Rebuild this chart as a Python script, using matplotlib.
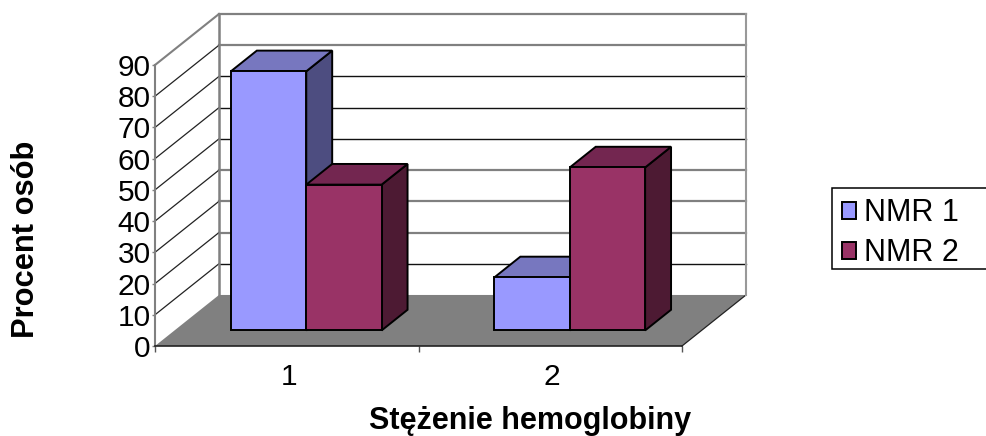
import matplotlib
matplotlib.use('Agg')
import matplotlib.pyplot as plt
from matplotlib.patches import Polygon, Patch, Rectangle
from matplotlib.transforms import ScaledTranslation

plt.rcParams['font.family'] = ['Liberation Sans', 'DejaVu Sans']

categories = ['1', '2']
nmr1 = [83, 17]
nmr2 = [46.7, 52.2]
y_ticks = [0, 10, 20, 30, 40, 50, 60, 70, 80, 90]
x_title = 'Stężenie hemoglobiny'
y_title = 'Procent osób'
series_names = ['NMR 1', 'NMR 2']

W, H = 987, 436
# oblique offset of the back wall, in data units
DX = 64 / 263.5
DY = 51 / 3.12
BAR_W = 0.286
D0, D1 = 0.305, 0.71

COLORS = [('#9999FF', '#7777BF', '#4D4D80'), ('#993366', '#732650', '#4D1A33')]
GRID_GRAY = [20, 30, 40, 80, 90]

fig = plt.figure(figsize=(W / 100, H / 100), dpi=100)
ax = fig.add_axes([155 / W, 1 - 346 / H, 527 / W, 281 / H])
ax.set_xlim(0, 2)
ax.set_ylim(0, 90)


def pt(x, y, d=0.0):
    return (x + DX * d, y + DY * d)


def poly(pts, fc, ec='none', lw=0, z=1):
    ax.add_patch(Polygon(pts, closed=True, facecolor=fc, edgecolor=ec,
                         linewidth=lw, zorder=z, clip_on=False, joinstyle='miter'))


# floor
poly([pt(0, 0), pt(2, 0), pt(2, 0, 1), pt(0, 0, 1)], '#808080')
ax.plot(*zip(pt(2, 0), pt(2, 0, 1)), color='#222222', lw=0.9, clip_on=False, zorder=2)

# walls and grid
for v in y_ticks:
    gray = v in GRID_GRAY
    if v > 0:
        c = '#808080' if gray else '#111111'
        ax.plot(*zip(pt(0, v, 1), pt(2, v, 1)), color=c, lw=1.6 if gray else 1.0,
                clip_on=False, zorder=2)
        side_c = '#808080' if v == 90 else '#222222'
        ax.plot(*zip(pt(0, v), pt(0, v, 1)), color=side_c, lw=1.5 if v == 90 else 0.9,
                clip_on=False, zorder=2)
ax.plot(*zip(pt(0, 0, 1), pt(0, 90, 1)), color='#808080', lw=1.8, clip_on=False, zorder=2)
ax.plot(*zip(pt(2, 0, 1), pt(2, 90, 1)), color='#999999', lw=1.5, clip_on=False, zorder=2)

# bars, left to right so that the later ones cover the earlier sides
for i in range(len(categories)):
    left = i + (1 - 2 * BAR_W) / 2
    for s, vals in enumerate([nmr1, nmr2]):
        x0 = left + s * BAR_W
        x1 = x0 + BAR_W
        v = vals[i]
        front, top, side = COLORS[s]
        z = 3 + i * 3 + s
        ek = dict(ec='black', lw=1.4, z=z)
        poly([pt(x1, 0, D0), pt(x1, 0, D1), pt(x1, v, D1), pt(x1, v, D0)], side, **ek)
        poly([pt(x0, v, D0), pt(x1, v, D0), pt(x1, v, D1), pt(x0, v, D1)], top, **ek)
        poly([pt(x0, 0, D0), pt(x1, 0, D0), pt(x1, v, D0), pt(x0, v, D0)], front, **ek)

for sp in ['top', 'right']:
    ax.spines[sp].set_visible(False)
ax.spines['left'].set_color('#808080')
ax.spines['left'].set_linewidth(1.5)
ax.spines['bottom'].set_color('#222222')
ax.spines['bottom'].set_linewidth(1.2)
ax.patch.set_visible(False)

ax.set_yticks(y_ticks)
ax.tick_params(axis='y', labelsize=21.5, length=2.5, width=1, color='#808080', pad=0.5)
ax.set_xticks([0.5, 1.5], categories)
ax.set_xticks([0, 1, 2], minor=True)
ax.tick_params(axis='x', which='major', length=0, labelsize=21.5, pad=12)
ax.tick_params(axis='x', which='minor', length=4.5, width=1, color='#555555')
for lab in ax.get_xticklabels():
    lab.set_transform(lab.get_transform() + ScaledTranslation(2 / 100, 0, fig.dpi_scale_trans))

fig.text(530 / W, 1 - 421 / H, x_title, fontsize=22, fontweight='bold', ha='center', va='center')
fig.text(26 / W, 1 - 239 / H, y_title, fontsize=22.2, fontweight='bold', rotation=90,
         ha='center', va='center')

# legend box runs off the right edge of the picture
fig.add_artist(Rectangle((832 / W, 1 - 269 / H), 170 / W, 81 / H, transform=fig.transFigure,
                         facecolor='white', edgecolor='black', linewidth=1.1, clip_on=True))
handles = [Patch(facecolor=COLORS[j][0], edgecolor='black', linewidth=1.4) for j in range(2)]
leg = fig.legend(handles, series_names, loc='upper left',
                 bbox_to_anchor=(832 / W, 1 - 188 / H), bbox_transform=fig.transFigure,
                 fontsize=22, frameon=False,
                 handlelength=0.46, handleheight=0.46, handletextpad=0.26, labelspacing=0.33,
                 borderpad=0.33, borderaxespad=0, ncols=1)

fig.savefig('out.png', dpi=100)
